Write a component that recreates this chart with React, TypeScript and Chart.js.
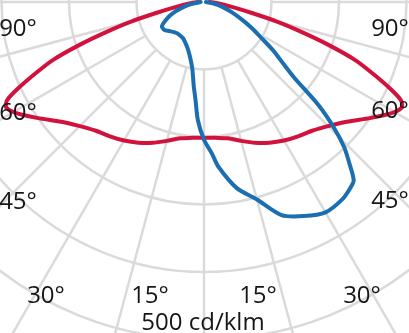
import React, { useEffect, useRef } from "react";
import { Chart, registerables } from "chart.js";

Chart.register(...registerables);

// ---- data (angle from nadir in degrees, luminous intensity in cd/klm) ----
const RED_ANGLES = [0, 5, 10, 15, 20, 25, 30, 35, 40, 45, 50, 55, 58, 60, 62, 63.5, 65, 67, 69, 71, 73, 75, 77, 80, 85, 90];
const RED_VALUES = [201, 202, 205, 213, 222, 230, 237, 243, 249, 260, 276, 300, 316, 326, 332, 326, 305, 272, 240, 195, 150, 112, 74, 42, 20, 8];

const BLUE_ANGLES = [-90, -80, -75, -70, -65, -60, -55, -50, -45, -40, -35, -30, -25, -20, -15, -10, -7, -5, -3, 0, 3, 5, 10, 15, 20, 25, 30, 35, 38, 40, 42, 44, 46, 48, 50, 52, 55, 58, 61.5, 65, 70, 75, 80, 90];
const BLUE_VALUES = [5, 22, 35, 50, 62, 72, 72, 67, 63, 61, 61, 62, 66, 72, 82, 100, 125, 145, 175, 204, 225, 245, 280, 303, 336, 350, 360, 357, 351, 345, 322, 299, 267, 228, 175, 150, 125, 100, 80, 62, 43, 28, 17, 3];

const RING_VALUES = [100, 200, 300, 400, 500];
const SPOKE_ANGLES = [-90, -75, -60, -45, -30, -15, 0, 15, 30, 45, 60, 75, 90];

const ANGLE_LABELS = ["90°", "90°", "60°", "60°", "45°", "45°", "30°", "15°", "15°", "30°"];
const UNIT_LABEL = "500 cd/klm";

// ---- layout ----
const W = 409;
const H = 333;
const PX_PER_UNIT = 0.675;
const CENTER_X_PX = 204;
const CENTER_Y_PX = 2;
const LABEL_POS = [
  [18, 36], [390, 36],
  [18, 120], [390, 118],
  [18, 209], [390, 208],
  [46, 303], [150, 303], [258, 303], [362, 303],
];
const UNIT_POS = [203, 330];

const GRID_COLOR = "#dadada";
const RED = "#d2123c";
const BLUE = "#1b6fb1";
const FONT = '24px "Open Sans", sans-serif';

function toPoints(angles: number[], values: number[]) {
  return angles.map((a, i) => {
    const t = (a * Math.PI) / 180;
    return { x: values[i] * Math.sin(t), y: -values[i] * Math.cos(t) };
  });
}

function mirrored(angles: number[], values: number[]) {
  const la = angles.slice().reverse().map((a) => -a);
  const lv = values.slice().reverse();
  return { a: [...la, ...angles.slice(1)], v: [...lv, ...values.slice(1)] };
}

const gridPlugin = {
  id: "polarGrid",
  beforeDatasetsDraw(chart: any) {
    const { ctx, chartArea, scales } = chart;
    const xs = scales.x;
    const ys = scales.y;
    const cx = xs.getPixelForValue(0);
    const cy = ys.getPixelForValue(0);
    const unit = xs.getPixelForValue(1) - cx;
    ctx.save();
    ctx.beginPath();
    ctx.rect(chartArea.left, chartArea.top, chartArea.right - chartArea.left, chartArea.bottom - chartArea.top);
    ctx.clip();
    ctx.strokeStyle = GRID_COLOR;
    ctx.lineWidth = 2.5;
    RING_VALUES.forEach((r) => {
      ctx.beginPath();
      ctx.arc(cx, cy, r * unit, 0, Math.PI * 2);
      ctx.stroke();
    });
    const r0 = RING_VALUES[0];
    const r1 = 1000;
    SPOKE_ANGLES.forEach((a) => {
      const t = (a * Math.PI) / 180;
      ctx.beginPath();
      ctx.moveTo(xs.getPixelForValue(r0 * Math.sin(t)), ys.getPixelForValue(-r0 * Math.cos(t)));
      ctx.lineTo(xs.getPixelForValue(r1 * Math.sin(t)), ys.getPixelForValue(-r1 * Math.cos(t)));
      ctx.stroke();
    });
    ctx.restore();
  },
  afterDatasetsDraw(chart: any) {
    const { ctx, chartArea } = chart;
    ctx.save();
    ctx.fillStyle = "#161616";
    ctx.font = FONT;
    ctx.textAlign = "center";
    ctx.textBaseline = "alphabetic";
    ANGLE_LABELS.forEach((t, i) => {
      ctx.fillText(t, chartArea.left + LABEL_POS[i][0], chartArea.top + LABEL_POS[i][1]);
    });
    ctx.fillText(UNIT_LABEL, chartArea.left + UNIT_POS[0], chartArea.top + UNIT_POS[1]);
    ctx.restore();
  },
};

export default function App() {
  const ref = useRef<HTMLCanvasElement | null>(null);
  useEffect(() => {
    if (!ref.current) return;
    const red = mirrored(RED_ANGLES, RED_VALUES);
    const chart = new Chart(ref.current, {
      type: "scatter",
      data: {
        datasets: [
          {
            data: toPoints(BLUE_ANGLES, BLUE_VALUES),
            showLine: true,
            borderColor: BLUE,
            borderWidth: 4,
            pointRadius: 0,
            tension: 0.25,
            order: 0,
            borderJoinStyle: "round",
            borderCapStyle: "round",
          },
          {
            data: toPoints(red.a, red.v),
            showLine: true,
            borderColor: RED,
            borderWidth: 4,
            pointRadius: 0,
            tension: 0.25,
            order: 1,
            borderJoinStyle: "round",
            borderCapStyle: "round",
          },
        ],
      },
      options: {
        animation: false,
        responsive: true,
        maintainAspectRatio: false,
        layout: { padding: 0 },
        plugins: { legend: { display: false }, tooltip: { enabled: false } },
        events: [],
        scales: {
          x: {
            type: "linear",
            display: false,
            min: -CENTER_X_PX / PX_PER_UNIT,
            max: (W - CENTER_X_PX) / PX_PER_UNIT,
          },
          y: {
            type: "linear",
            display: false,
            min: -(H - CENTER_Y_PX) / PX_PER_UNIT,
            max: CENTER_Y_PX / PX_PER_UNIT,
          },
        },
      },
      plugins: [gridPlugin],
    } as any);
    return () => chart.destroy();
  }, []);
  return (
    <div style={{ position: "absolute", left: 0, top: 0, width: W, height: H, background: "#fff" }}>
      <canvas ref={ref} />
    </div>
  );
}
